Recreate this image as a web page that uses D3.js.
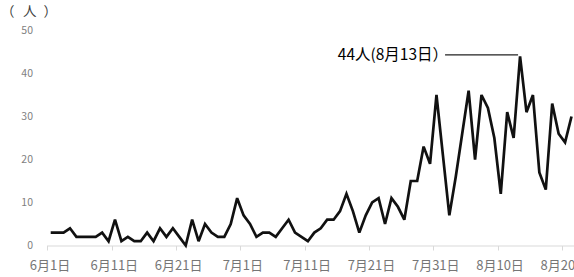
<!DOCTYPE html>
<html>
<head>
<meta charset="utf-8">
<script src="https://cdn.jsdelivr.net/npm/d3@7"></script>
<style>
    html, body { margin: 0; padding: 0; background: #fff; }
    svg { display: block; }
    text { font-family: "Noto Sans CJK JP", "Noto Sans", sans-serif; }
</style>
</head>
<body>
<svg id="chart" width="574" height="277"></svg>
<script>
"use strict";

// daily counts, 6月1日 .. 8月21日
var startDate = new Date(2020, 5, 1);
var counts = [
    3, 3, 3, 4, 2, 2, 2, 2, 3, 1,
    6, 1, 2, 1, 1, 3, 1, 4, 2, 4,
    2, 0, 6, 1, 5, 3, 2, 2, 5, 11,
    7, 5, 2, 3, 3, 2, 4, 6, 3, 2,
    1, 3, 4, 6, 6, 8, 12, 8, 3, 7,
    10, 11, 5, 11, 9, 6, 15, 15, 23, 19,
    35, 21, 7, 16, 26, 36, 20, 35, 32, 25,
    12, 31, 25, 44, 31, 35, 17, 13, 33, 26,
    24, 30
];
var yTicks = [0, 10, 20, 30, 40, 50];
var xTickEvery = 10;
var unitLabel = "（人）";

var days = counts.map(function (c, i) {
    return { day: i, date: d3.timeDay.offset(startDate, i), value: c };
});

var svg = d3.select("#chart");

var x = d3.scaleLinear()
    .domain([0, counts.length - 1])
    .range([50.7, 571.5]);

var y = d3.scaleLinear()
    .domain([0, 50])
    .range([245.5, 30.5]);

var step = x(1) - x(0);
var fmt = function (d) { return (d.getMonth() + 1) + "月" + d.getDate() + "日"; };

// x axis: baseline + ticks at category edges
var tickDays = d3.range(0, counts.length, xTickEvery);

svg.append("line")
    .attr("x1", x(0) - step / 2 - 0.5)
    .attr("x2", 574)
    .attr("y1", y(0) + 0.5)
    .attr("y2", y(0) + 0.5)
    .attr("stroke", "#d9d9d9")
    .attr("stroke-width", 1);

svg.append("g")
    .selectAll("line")
    .data(tickDays)
    .enter()
    .append("line")
    .attr("x1", function (d) { return Math.round(x(d) - step / 2) + 0.5; })
    .attr("x2", function (d) { return Math.round(x(d) - step / 2) + 0.5; })
    .attr("y1", y(0) + 0.5)
    .attr("y2", y(0) + 5)
    .attr("stroke", "#d9d9d9");

svg.append("g")
    .selectAll("text")
    .data(tickDays)
    .enter()
    .append("text")
    .attr("x", function (d) { return x(d) - step / 2 + 2.5; })
    .attr("y", 270)
    .attr("text-anchor", "middle")
    .attr("font-size", 13)
    .attr("fill", "#767676")
    .text(function (d) { return fmt(days[d].date); });

// y axis labels only
svg.append("g")
    .selectAll("text")
    .data(yTicks)
    .enter()
    .append("text")
    .attr("x", 33)
    .attr("y", function (d) { return y(d); })
    .attr("dy", "0.35em")
    .attr("text-anchor", "end")
    .attr("font-size", 10.5)
    .attr("fill", "#7f7f7f")
    .text(function (d) { return d; });

// unit label, characters spread out like the original
svg.append("text")
    .attr("x", "1 23 43.5")
    .attr("y", 16)
    .attr("font-size", 13.5)
    .attr("fill", "#404040")
    .text(unitLabel);

// the series
var line = d3.line()
    .x(function (d) { return x(d.day); })
    .y(function (d) { return y(d.value); });

svg.append("path")
    .datum(days)
    .attr("d", line)
    .attr("fill", "none")
    .attr("stroke", "#111")
    .attr("stroke-width", 2.7)
    .attr("stroke-linejoin", "miter")
    .attr("stroke-miterlimit", 3);

// annotation on the peak
var peak = days.reduce(function (a, b) { return b.value > a.value ? b : a; });
var annY = y(peak.value) - 1.5;

svg.append("line")
    .attr("x1", x(peak.day) - 75)
    .attr("x2", x(peak.day) - 2)
    .attr("y1", annY)
    .attr("y2", annY)
    .attr("stroke", "#222")
    .attr("stroke-width", 1.2);

svg.append("text")
    .attr("x", x(peak.day) - 72)
    .attr("y", annY)
    .attr("dy", "0.35em")
    .attr("text-anchor", "end")
    .attr("font-size", 15.5)
    .attr("fill", "#000")
    .text(peak.value + "人(" + fmt(peak.date) + "）");
</script>
</body>
</html>
